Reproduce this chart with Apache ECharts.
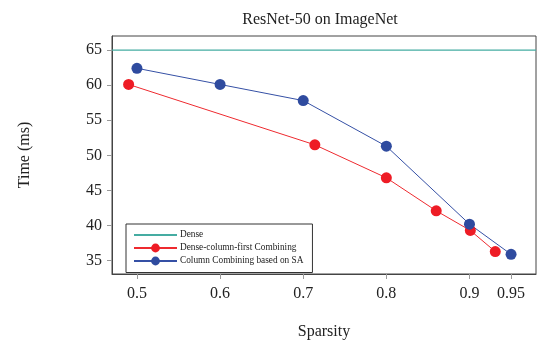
<!DOCTYPE html>
<html><head><meta charset="utf-8">
<script src="https://cdn.jsdelivr.net/npm/echarts@6/dist/echarts.min.js"></script>
<style>html,body{margin:0;padding:0;background:#fff}#c{width:537px;height:345px}</style>
</head><body><div id="c"></div>
<script>
const xTicks = [0.5, 0.6, 0.7, 0.8, 0.9, 0.95];
const yTicks = [35, 40, 45, 50, 55, 60, 65];
const denseX = [0.47, 0.98];
const denseY = [65, 65];
const redX = [0.49, 0.714, 0.8, 0.86, 0.901, 0.931];
const redY = [60.1, 51.5, 46.8, 42.1, 39.3, 36.3];
const blueX = [0.5, 0.6, 0.7, 0.8, 0.9, 0.95];
const blueY = [62.4, 60.1, 57.8, 51.3, 40.2, 35.9];
const names = ['Dense', 'Dense-column-first Combining', 'Column Combining based on SA'];

const zip = (a, b) => a.map((v, i) => [v, b[i]]);
const font = 'Liberation Serif';
const chart = echarts.init(document.getElementById('c'));
chart.setOption({
  animation: false,
  title: { text: 'ResNet-50 on ImageNet', left: 315, textAlign: 'center', top: 7,
    textStyle: { fontFamily: font, fontSize: 16, fontWeight: 'normal', color: '#222' } },
  grid: { left: 112, right: 1, top: 36, bottom: 65, show: true, borderColor: '#444', borderWidth: 1 },
  legend: {
    orient: 'vertical', left: 126, top: 224,
    padding: [6.5, 9, 7, 7], itemGap: 4, itemWidth: 43, itemHeight: 11,
    backgroundColor: '#fff', borderColor: '#333', borderWidth: 1,
    textStyle: { fontFamily: font, fontSize: 9.3, color: '#222', padding: [0, 0, 0, -2] },
    data: [{ name: names[0], itemStyle: { opacity: 0 } }, names[1], names[2]]
  },
  xAxis: {
    type: 'value', min: 0.47, max: 0.98,
    name: 'Sparsity', nameLocation: 'middle', nameGap: 50,
    nameTextStyle: { fontFamily: font, fontSize: 16, color: '#222' },
    axisLine: { show: true, lineStyle: { color: '#444' } },
    axisTick: { show: true, length: 5, customValues: xTicks, lineStyle: { color: '#999' } },
    axisLabel: { customValues: xTicks, fontFamily: font, fontSize: 16, color: '#222', margin: 12 },
    splitLine: { show: false }
  },
  yAxis: {
    type: 'value', min: 33.1, max: 67,
    name: 'Time (ms)', nameLocation: 'middle', nameGap: 79, nameRotate: 90,
    nameTextStyle: { fontFamily: font, fontSize: 16, color: '#222' },
    axisLine: { show: true, lineStyle: { color: '#444' } },
    axisTick: { show: true, length: 5, customValues: yTicks, lineStyle: { color: '#999' } },
    axisLabel: { customValues: yTicks, fontFamily: font, fontSize: 16, color: '#222', margin: 10 },
    splitLine: { show: false }
  },
  series: [
    { name: names[0], type: 'line', data: zip(denseX, denseY), symbol: 'none',
      lineStyle: { color: '#45aca2', width: 1.2 }, itemStyle: { color: '#45aca2' } },
    { name: names[1], type: 'line', data: zip(redX, redY), symbol: 'circle', symbolSize: 11,
      lineStyle: { color: '#ee2a2f', width: 1 }, itemStyle: { color: '#ee1c25' } },
    { name: names[2], type: 'line', data: zip(blueX, blueY), symbol: 'circle', symbolSize: 11,
      lineStyle: { color: '#3550a5', width: 1 }, itemStyle: { color: '#2f4b9f' } }
  ]
});
</script></body></html>
